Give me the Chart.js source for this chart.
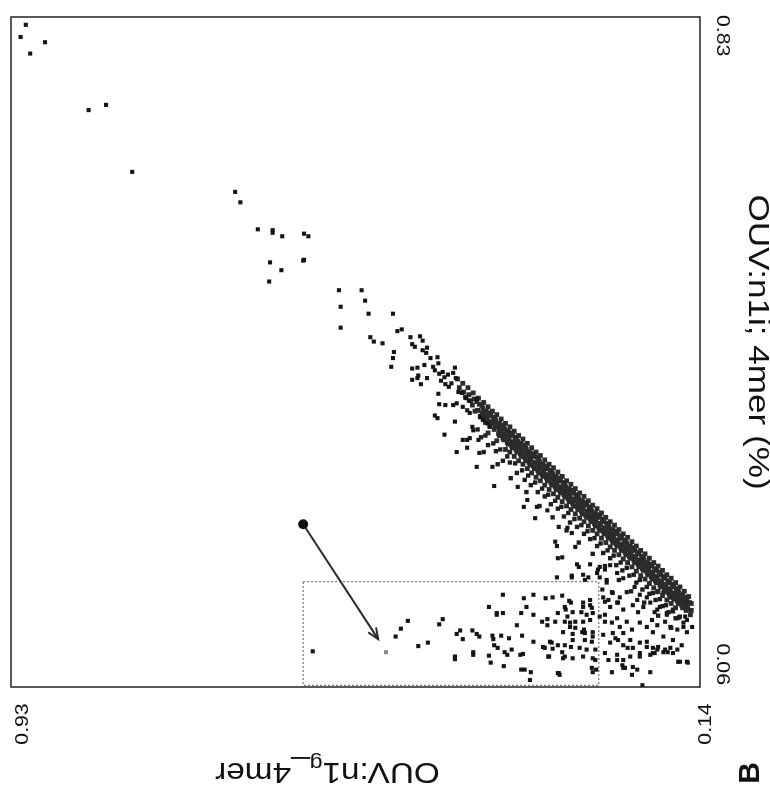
<!DOCTYPE html>
<html>
<head>
<meta charset="utf-8">
<script src="https://cdn.jsdelivr.net/npm/chart.js@4.4.0/dist/chart.umd.min.js"></script>
<style>
html,body{margin:0;padding:0;background:#fff;}
canvas{display:block;}
</style>
</head>
<body>
<canvas id="c" width="770" height="808"></canvas>
<script>
// scan of panel B: OUV:n1g_4mer runs along the bottom (reversed), OUV:n1i along the right side
const xRange = [0.14, 0.93];
const yRange = [0.06, 0.83];
const xTickLabels = ["0.93", "0.14"];
const yTickLabels = ["0.83", "0.06"];
const xTitleParts = ["OUV:n1", "g", "_4mer"];
const yTitle = "OUV:n1i; 4mer (%)";
const panelLabel = "B";
const boxCorners = [[0.595, 0.181], [0.256, 0.062]];
const arrowEnds = [[0.595, 0.247], [0.509, 0.115]];

// points as [n1g, n1i]
const outlierPts = [
  [0.913,0.821],[0.919,0.807],[0.891,0.801],[0.908,0.788],
  [0.841,0.723],[0.821,0.729],[0.791,0.652],
  [0.673,0.629],[0.667,0.617],[0.647,0.586],[0.630,0.585],[0.630,0.582],[0.619,0.578],[0.594,0.581],[0.589,0.578],
  [0.633,0.548],[0.620,0.539],[0.634,0.526],[0.595,0.550],[0.594,0.551],
  [0.554,0.516],[0.528,0.516],[0.552,0.497],[0.524,0.504],[0.520,0.489],[0.492,0.489],[0.552,0.473],[0.487,0.469],[0.482,0.471]
];
const upperPts = [
  [0.518,0.462],[0.514,0.457],[0.504,0.455],[0.491,0.445],[0.492,0.438],[0.494,0.428],
  [0.472,0.462],[0.461,0.463],[0.470,0.454],[0.467,0.451],[0.458,0.458],[0.458,0.447],[0.454,0.444],[0.453,0.450],
  [0.449,0.438],[0.441,0.439],[0.440,0.432],[0.470,0.426],[0.464,0.427],[0.456,0.430],[0.446,0.428],[0.444,0.424],
  [0.463,0.418],[0.464,0.415],[0.470,0.413],[0.453,0.415],[0.460,0.408],[0.439,0.420],[0.435,0.422],[0.433,0.416],
  [0.429,0.419],[0.423,0.421],[0.421,0.427],[0.437,0.412],[0.432,0.408],[0.428,0.405],[0.425,0.409],[0.420,0.415],
  [0.417,0.399],[0.413,0.398],[0.440,0.397],[0.439,0.385],[0.432,0.384],[0.423,0.384],[0.419,0.386],
  [0.408,0.392],[0.405,0.389],[0.396,0.391],[0.444,0.372],[0.441,0.369],[0.412,0.382],[0.407,0.378],[0.404,0.375],
  [0.421,0.365],[0.433,0.350],[0.401,0.359],[0.400,0.355],[0.392,0.370],[0.389,0.367],[0.384,0.363],[0.381,0.359],
  [0.412,0.344],[0.404,0.346],[0.419,0.330]
];
const bandPts = [
  [0.418,0.414],[0.416,0.404],
  [0.412,0.409],[0.411,0.399],[0.409,0.393],
  [0.406,0.404],[0.405,0.396],[0.403,0.389],
  [0.400,0.398],[0.399,0.391],[0.401,0.384],[0.398,0.377],
  [0.394,0.392],[0.393,0.385],[0.395,0.378],[0.392,0.371],
  [0.388,0.387],[0.389,0.380],[0.387,0.372],[0.386,0.364],
  [0.383,0.382],[0.382,0.375],[0.384,0.368],[0.381,0.360],[0.383,0.352],
  [0.378,0.377],[0.377,0.370],[0.379,0.363],[0.376,0.356],
  [0.373,0.373],[0.374,0.366],[0.372,0.359],[0.371,0.351],[0.373,0.343],
  [0.368,0.368],[0.367,0.361],[0.369,0.354],[0.366,0.346],
  [0.363,0.363],[0.364,0.356],[0.362,0.349],[0.361,0.341],[0.363,0.333],
  [0.358,0.359],[0.357,0.352],[0.359,0.345],[0.356,0.337],[0.358,0.330],
  [0.353,0.354],[0.352,0.347],[0.354,0.340],[0.351,0.333],[0.353,0.325],
  [0.348,0.349],[0.349,0.342],[0.347,0.336],[0.346,0.328],[0.348,0.320],
  [0.343,0.345],[0.342,0.338],[0.344,0.331],[0.341,0.324],[0.343,0.316],
  [0.338,0.340],[0.339,0.333],[0.337,0.326],[0.336,0.318],[0.338,0.311],
  [0.333,0.335],[0.332,0.328],[0.334,0.321],[0.331,0.314],[0.333,0.306],
  [0.328,0.330],[0.327,0.324],[0.329,0.317],[0.326,0.309],[0.328,0.301],
  [0.323,0.326],[0.324,0.319],[0.322,0.312],[0.321,0.304],[0.323,0.297],
  [0.318,0.321],[0.317,0.314],[0.319,0.307],[0.316,0.300],[0.318,0.292],
  [0.313,0.316],[0.312,0.309],[0.314,0.302],[0.311,0.295],[0.313,0.287],
  [0.308,0.312],[0.309,0.305],[0.307,0.298],[0.306,0.290],[0.308,0.282],
  [0.303,0.307],[0.302,0.300],[0.304,0.293],[0.301,0.286],[0.303,0.278],
  [0.298,0.302],[0.297,0.295],[0.299,0.288],[0.296,0.281],[0.298,0.273],
  [0.293,0.297],[0.294,0.290],[0.292,0.283],[0.291,0.276],[0.293,0.268],
  [0.288,0.293],[0.287,0.286],[0.289,0.279],[0.286,0.271],[0.288,0.264],
  [0.283,0.288],[0.282,0.281],[0.284,0.274],[0.281,0.267],[0.283,0.259],
  [0.278,0.283],[0.279,0.276],[0.277,0.269],[0.276,0.262],[0.278,0.254],
  [0.273,0.279],[0.272,0.272],[0.274,0.265],[0.271,0.257],[0.273,0.250],
  [0.268,0.274],[0.267,0.267],[0.269,0.260],[0.266,0.253],[0.268,0.245],
  [0.263,0.269],[0.264,0.262],[0.262,0.255],[0.261,0.248],[0.263,0.240],
  [0.258,0.265],[0.257,0.258],[0.259,0.251],[0.256,0.243],[0.258,0.236],
  [0.253,0.260],[0.252,0.253],[0.254,0.246],[0.251,0.239],[0.253,0.231],
  [0.248,0.255],[0.247,0.248],[0.249,0.241],[0.246,0.234],[0.248,0.226],
  [0.243,0.250],[0.244,0.243],[0.242,0.236],[0.241,0.229],[0.243,0.221],
  [0.238,0.246],[0.237,0.239],[0.239,0.232],[0.236,0.224],[0.238,0.217],
  [0.233,0.241],[0.232,0.234],[0.234,0.227],[0.231,0.220],[0.233,0.212],
  [0.228,0.236],[0.227,0.229],[0.229,0.222],[0.226,0.215],[0.228,0.207],
  [0.223,0.232],[0.224,0.225],[0.222,0.218],[0.221,0.210],[0.223,0.203],
  [0.218,0.227],[0.217,0.220],[0.219,0.213],[0.216,0.206],[0.218,0.198],
  [0.213,0.222],[0.212,0.215],[0.214,0.208],[0.211,0.201],[0.213,0.193],
  [0.208,0.217],[0.207,0.210],[0.209,0.203],[0.206,0.196],[0.208,0.188],
  [0.203,0.213],[0.204,0.206],[0.202,0.199],[0.201,0.192],[0.203,0.184],
  [0.198,0.208],[0.197,0.201],[0.199,0.194],[0.196,0.187],[0.198,0.179],
  [0.193,0.203],[0.192,0.196],[0.194,0.189],[0.191,0.182],[0.193,0.174],
  [0.188,0.199],[0.187,0.192],[0.189,0.185],[0.186,0.177],[0.188,0.170],
  [0.183,0.194],[0.182,0.187],[0.184,0.180],[0.181,0.173],[0.183,0.165],
  [0.178,0.189],[0.177,0.182],[0.179,0.175],[0.176,0.168],[0.178,0.160],
  [0.173,0.185],[0.172,0.178],[0.174,0.171],[0.171,0.163],[0.173,0.156],
  [0.168,0.180],[0.167,0.173],[0.169,0.166],[0.166,0.159],[0.168,0.151],
  [0.163,0.175],[0.164,0.168],[0.162,0.161],[0.161,0.154],
  [0.158,0.170],[0.157,0.163],[0.159,0.156],[0.156,0.148],
  [0.153,0.164],[0.152,0.157],[0.154,0.150],[0.151,0.143]
];
// in-between dots of the dense band (second pass over the same stretch)
const bandFillPts = [
  [0.396,0.388],[0.390,0.383],[0.390,0.375],[0.385,0.377],[0.385,0.370],[0.380,0.372],[0.380,0.365],[0.375,0.368],
  [0.375,0.361],[0.370,0.363],[0.370,0.356],[0.370,0.349],[0.365,0.358],[0.365,0.351],[0.365,0.344],[0.360,0.354],
  [0.360,0.347],[0.360,0.339],[0.355,0.349],[0.355,0.342],[0.355,0.335],[0.350,0.344],[0.350,0.337],[0.350,0.330],
  [0.345,0.340],[0.345,0.333],[0.345,0.325],[0.340,0.335],[0.340,0.328],[0.340,0.320],[0.335,0.330],[0.335,0.323],
  [0.335,0.315],[0.330,0.325],[0.330,0.318],[0.330,0.311],[0.325,0.321],[0.325,0.314],[0.325,0.306],[0.320,0.316],
  [0.320,0.309],[0.320,0.302],[0.315,0.311],[0.315,0.304],[0.315,0.297],[0.310,0.307],[0.310,0.300],[0.310,0.292],
  [0.305,0.302],[0.305,0.295],[0.305,0.287],[0.300,0.297],[0.300,0.290],[0.300,0.283],[0.295,0.292],[0.295,0.285],
  [0.295,0.278],[0.290,0.288],[0.290,0.281],[0.290,0.273],[0.285,0.283],[0.285,0.276],[0.285,0.268],[0.280,0.278],
  [0.280,0.271],[0.280,0.264],[0.275,0.274],[0.275,0.267],[0.275,0.259],[0.270,0.269],[0.270,0.262],[0.270,0.255],
  [0.265,0.264],[0.265,0.257],[0.265,0.250],[0.260,0.260],[0.260,0.253],[0.260,0.245],[0.255,0.255],[0.255,0.248],
  [0.255,0.240],[0.250,0.250],[0.250,0.243],[0.250,0.236],[0.245,0.245],[0.245,0.238],[0.245,0.231],[0.240,0.241],
  [0.240,0.234],[0.240,0.226],[0.235,0.236],[0.235,0.229],[0.235,0.222],[0.230,0.231],[0.230,0.224],[0.230,0.217],
  [0.225,0.227],[0.225,0.220],[0.225,0.212],[0.220,0.222],[0.220,0.215],[0.220,0.208],[0.215,0.217],[0.215,0.210],
  [0.215,0.203],[0.210,0.213],[0.210,0.206],[0.210,0.198],[0.205,0.208],[0.205,0.201],[0.205,0.194],[0.200,0.203],
  [0.200,0.196],[0.200,0.189],[0.195,0.199],[0.195,0.192],[0.195,0.184],[0.190,0.194],[0.190,0.187],[0.190,0.180],
  [0.185,0.189],[0.185,0.182],[0.185,0.175],[0.180,0.185],[0.180,0.178],[0.180,0.170],[0.175,0.180],[0.175,0.173],
  [0.175,0.166],[0.170,0.175],[0.170,0.168],[0.170,0.161],[0.165,0.171],[0.165,0.164],[0.165,0.156],[0.160,0.166],
  [0.160,0.159],[0.160,0.151],[0.155,0.161],[0.155,0.154],[0.150,0.156],[0.150,0.148]
];
// ragged underside of the band
const bandEdgePts = [
  [0.395,0.356],[0.391,0.347],[0.386,0.349],[0.383,0.338],[0.377,0.340],[0.374,0.331],[0.369,0.333],[0.366,0.320],
  [0.361,0.325],[0.358,0.318],[0.352,0.317],[0.350,0.306],[0.344,0.309],[0.341,0.298],[0.337,0.303],[0.334,0.292],
  [0.329,0.295],[0.326,0.284],[0.321,0.288],[0.318,0.279],[0.314,0.281],[0.311,0.270],[0.306,0.274],[0.303,0.265],
  [0.299,0.267],[0.296,0.256],[0.291,0.260],[0.289,0.249],[0.284,0.253],[0.281,0.244],[0.276,0.246],[0.273,0.236],
  [0.269,0.239],[0.266,0.230],[0.261,0.231],[0.258,0.222],[0.254,0.225],[0.251,0.214],[0.246,0.217],[0.243,0.208],
  [0.239,0.211],[0.236,0.200],[0.231,0.203],[0.229,0.194],[0.224,0.197],[0.221,0.188],[0.216,0.189],[0.213,0.180],
  [0.209,0.183],[0.206,0.172],[0.201,0.175],[0.198,0.167],[0.194,0.168],[0.191,0.160],[0.186,0.161],[0.183,0.153],
  [0.179,0.154],[0.176,0.146],[0.171,0.147],[0.168,0.139],[0.164,0.140],
  [0.388,0.330],[0.372,0.316],[0.357,0.300],[0.339,0.284],[0.324,0.268],[0.309,0.255],[0.293,0.240],[0.279,0.226],
  [0.263,0.213],[0.249,0.199],[0.233,0.183],[0.219,0.170],[0.204,0.157],[0.188,0.142],[0.173,0.128]
];
const lowerPts = [
  [0.407,0.344],[0.394,0.344],[0.407,0.335],[0.393,0.329],[0.396,0.313],[0.378,0.313],[0.376,0.291],[0.349,0.290],
  [0.342,0.267],[0.329,0.254],[0.338,0.275],[0.327,0.267],[0.315,0.263],[0.302,0.244],[0.292,0.243],[0.287,0.237],
  [0.306,0.227],[0.304,0.222],[0.283,0.221],[0.298,0.209],[0.303,0.208],[0.281,0.201],[0.279,0.198],[0.287,0.186],
  [0.304,0.186],[0.268,0.186],[0.272,0.183],[0.255,0.198],[0.258,0.191],[0.247,0.183],
  [0.287,0.188],[0.274,0.189],[0.266,0.201],[0.257,0.195],[0.255,0.186]
];
const boxPts = [
  [0.584,0.101],[0.489,0.118],[0.483,0.127],[0.475,0.136],[0.463,0.107],[0.452,0.111],[0.439,0.132],[0.435,0.138],
  [0.419,0.121],[0.415,0.125],[0.412,0.115],[0.421,0.095],[0.421,0.092],[0.401,0.125],[0.396,0.121],[0.393,0.118],
  [0.400,0.100],[0.400,0.097],[0.382,0.152],[0.373,0.145],[0.373,0.143],[0.366,0.145],[0.366,0.166],
  [0.378,0.119],[0.377,0.115],[0.376,0.108],[0.372,0.105],[0.368,0.119],[0.359,0.116],
  [0.382,0.096],[0.380,0.088],[0.365,0.084],[0.364,0.100],[0.361,0.097],[0.356,0.103],
  [0.350,0.131],[0.344,0.119],[0.345,0.145],[0.339,0.152],[0.342,0.162],[0.331,0.166],[0.331,0.143],
  [0.346,0.097],[0.343,0.098],[0.331,0.112],[0.345,0.080],[0.341,0.080],[0.334,0.077],[0.335,0.068],
  [0.321,0.135],[0.315,0.138],[0.315,0.131],[0.320,0.106],[0.314,0.095],[0.317,0.162],[0.309,0.163],
  [0.303,0.145],[0.295,0.152],[0.294,0.149],[0.292,0.141],[0.289,0.129],[0.283,0.128],[0.297,0.123],[0.283,0.135],
  [0.310,0.111],[0.303,0.108],[0.298,0.100],[0.288,0.106],[0.278,0.105],[0.313,0.095],[0.295,0.095],[0.286,0.093],
  [0.302,0.076],[0.298,0.165],[0.290,0.159],[0.288,0.157],[0.286,0.146],[0.276,0.146],[0.274,0.157],[0.266,0.154],
  [0.264,0.151],[0.263,0.145],[0.306,0.135],[0.295,0.135],[0.289,0.134],[0.274,0.135],[0.266,0.137],
  [0.286,0.121],[0.275,0.123],[0.273,0.126],[0.263,0.123],[0.312,0.112],[0.318,0.105],[0.309,0.104],[0.295,0.108],
  [0.286,0.114],[0.272,0.114],[0.264,0.112],[0.270,0.103],[0.260,0.103],[0.297,0.093],[0.274,0.095],[0.263,0.093],
  [0.264,0.082],[0.263,0.077],[0.303,0.076],[0.301,0.074],[0.259,0.080],[0.274,0.152],[0.270,0.143],[0.266,0.160],
  [0.272,0.122],[0.263,0.118],[0.260,0.091]
];
const cornerPts = [
  [0.249,0.195],[0.243,0.200],[0.235,0.191],[0.228,0.185],[0.247,0.180],[0.241,0.169],[0.232,0.163],[0.224,0.169],
  [0.215,0.175],[0.209,0.166],[0.201,0.163],[0.189,0.169],[0.182,0.168],[0.174,0.163],[0.166,0.160],[0.155,0.157],
  [0.249,0.158],[0.243,0.152],[0.234,0.157],[0.228,0.149],[0.217,0.154],[0.211,0.146],[0.205,0.152],[0.197,0.157],
  [0.192,0.146],[0.186,0.152],[0.178,0.145],[0.171,0.149],[0.163,0.141],[0.155,0.137],[0.149,0.129],
  [0.249,0.143],[0.241,0.134],[0.235,0.139],[0.232,0.129],[0.224,0.135],[0.218,0.126],[0.209,0.134],[0.201,0.129],
  [0.195,0.137],[0.189,0.131],[0.180,0.135],[0.174,0.129],[0.166,0.126],[0.159,0.129],[0.155,0.123],
  [0.251,0.120],[0.243,0.111],[0.237,0.116],[0.228,0.108],[0.220,0.114],[0.217,0.105],[0.209,0.111],[0.201,0.112],
  [0.194,0.105],[0.188,0.106],[0.182,0.100],[0.174,0.105],[0.166,0.103],
  [0.249,0.099],[0.245,0.091],[0.235,0.097],[0.228,0.091],[0.220,0.095],[0.209,0.099],[0.197,0.097],[0.189,0.103],
  [0.165,0.089],[0.155,0.089],[0.241,0.077],[0.228,0.082],[0.218,0.074],[0.212,0.080],[0.197,0.077],[0.206,0.062],
  [0.201,0.106],[0.194,0.099],[0.180,0.103],[0.177,0.100],[0.171,0.099],[0.161,0.108],[0.163,0.089],[0.154,0.088],
  [0.252,0.172],[0.251,0.163],[0.245,0.160],[0.240,0.168],[0.235,0.157],[0.255,0.141],[0.249,0.135],[0.240,0.122],
  [0.234,0.114],[0.228,0.122],[0.223,0.105],[0.235,0.091],[0.229,0.085],[0.226,0.082],[0.217,0.083],[0.209,0.095],
  [0.192,0.099],[0.194,0.123],[0.182,0.118],[0.171,0.114],[0.212,0.160],[0.189,0.149],[0.178,0.143],[0.166,0.139],
  [0.159,0.134],[0.155,0.149],[0.157,0.141]
];
const markedPt = [[0.500,0.100]];

function toXY(list){ return list.map(function(p){ return {x:p[0], y:p[1]}; }); }

function txt(ctx, s, x, y, ang, font, align, sx){
  ctx.save();
  ctx.translate(x, y);
  ctx.rotate(ang);
  ctx.scale(sx || 1, 1);
  ctx.font = font;
  ctx.fillStyle = "#111";
  ctx.textAlign = align || "center";
  ctx.textBaseline = "middle";
  ctx.fillText(s, 0, 0);
  ctx.restore();
}

const decor = {
  id: "decor",
  afterDatasetsDraw: function(chart){
    const ctx = chart.ctx, xs = chart.scales.x, ys = chart.scales.y;
    // dotted selection box
    const bx1 = xs.getPixelForValue(boxCorners[0][0]), by1 = ys.getPixelForValue(boxCorners[0][1]);
    const bx2 = xs.getPixelForValue(boxCorners[1][0]), by2 = ys.getPixelForValue(boxCorners[1][1]);
    ctx.save();
    ctx.strokeStyle = "#555"; ctx.lineWidth = 1; ctx.setLineDash([2, 2]);
    ctx.strokeRect(bx1, by1, bx2 - bx1, by2 - by1);
    ctx.restore();
    // arrow
    const ax = xs.getPixelForValue(arrowEnds[0][0]), ay = ys.getPixelForValue(arrowEnds[0][1]);
    const tx = xs.getPixelForValue(arrowEnds[1][0]), ty = ys.getPixelForValue(arrowEnds[1][1]);
    const a = Math.atan2(ty - ay, tx - ax);
    ctx.save();
    ctx.strokeStyle = "#2a2a2a"; ctx.fillStyle = "#111"; ctx.lineWidth = 2;
    ctx.beginPath(); ctx.moveTo(ax, ay); ctx.lineTo(tx, ty); ctx.stroke();
    ctx.beginPath();
    ctx.moveTo(tx - 12 * Math.cos(a - 0.4), ty - 12 * Math.sin(a - 0.4));
    ctx.lineTo(tx, ty);
    ctx.lineTo(tx - 12 * Math.cos(a + 0.4), ty - 12 * Math.sin(a + 0.4));
    ctx.stroke();
    ctx.beginPath(); ctx.arc(ax, ay, 5, 0, Math.PI * 2); ctx.fill();
    ctx.restore();
  },
  afterDraw: function(chart){
    const ctx = chart.ctx, c = chart.chartArea;
    ctx.save();
    ctx.strokeStyle = "#222"; ctx.lineWidth = 1.5;
    ctx.strokeRect(c.left, c.top, c.right - c.left, c.bottom - c.top);
    ctx.restore();
    const tf = "19px 'Liberation Sans', Arial, sans-serif";
    const big = "29px 'Liberation Sans', Arial, sans-serif";
    // right side, rotated clockwise
    txt(ctx, yTickLabels[0], c.right + 22, c.top - 2, Math.PI / 2, tf, "left", 1.12);
    txt(ctx, yTickLabels[1], c.right + 22, c.bottom - 2, Math.PI / 2, tf, "right", 1.12);
    txt(ctx, yTitle, c.right + 57, (c.top + c.bottom) / 2 - 10, Math.PI / 2, "30px 'Liberation Sans', Arial, sans-serif", "center", 1.17);
    // bottom ticks, rotated counter-clockwise
    txt(ctx, xTickLabels[0], c.left + 12, c.bottom + 37, -Math.PI / 2, tf, "center", 1.12);
    txt(ctx, xTickLabels[1], c.right + 6, c.bottom + 37, -Math.PI / 2, tf, "center", 1.12);
    // bottom title, upside down, with subscript g
    ctx.save();
    ctx.translate((c.left + c.right) / 2 - 28, c.bottom + 84);
    ctx.rotate(Math.PI);
    ctx.scale(1.15, 1);
    ctx.fillStyle = "#111"; ctx.textBaseline = "middle"; ctx.textAlign = "left";
    const small = "20px 'Liberation Sans', Arial, sans-serif";
    ctx.font = big; const w0 = ctx.measureText(xTitleParts[0]).width;
    ctx.font = small; const w1 = ctx.measureText(xTitleParts[1]).width;
    ctx.font = big; const w2 = ctx.measureText(xTitleParts[2]).width;
    let px = -(w0 + w1 + w2) / 2;
    ctx.fillText(xTitleParts[0], px, 0); px += w0;
    ctx.font = small; ctx.fillText(xTitleParts[1], px, 8); px += w1;
    ctx.font = big; ctx.fillText(xTitleParts[2], px, 0);
    ctx.restore();
    // panel letter
    txt(ctx, panelLabel, c.right + 51, c.bottom + 86, -Math.PI / 2, "bold 30px 'Liberation Sans', Arial, sans-serif", "center", 1);
  }
};

const dot = {showLine:false, pointStyle:"rect", pointRadius:2.9, pointBackgroundColor:"#151515", pointBorderWidth:0};
function ds(list, extra){ return Object.assign({data: toXY(list)}, dot, extra || {}); }

new Chart(document.getElementById("c"), {
  type: "scatter",
  data: {
    datasets: [
      ds(outlierPts), ds(upperPts),
      ds(bandPts, {pointBackgroundColor:"#2b2b2b", pointRadius:3.4}),
      ds(bandFillPts, {pointBackgroundColor:"#2b2b2b", pointRadius:3.4}),
      ds(bandEdgePts, {pointBackgroundColor:"#1e1e1e", pointRadius:3.1}),
      ds(lowerPts), ds(boxPts), ds(cornerPts),
      ds(markedPt, {pointBackgroundColor:"#8a8a8a"})
    ]
  },
  options: {
    responsive: false,
    animation: false,
    events: [],
    layout: {padding: {left: 11, top: 17, right: 70, bottom: 121}},
    plugins: {legend: {display: false}, tooltip: {enabled: false}},
    scales: {
      x: {type: "linear", min: xRange[0], max: xRange[1], reverse: true, display: false},
      y: {type: "linear", min: yRange[0], max: yRange[1], display: false}
    }
  },
  plugins: [decor]
});
</script>
</body>
</html>
